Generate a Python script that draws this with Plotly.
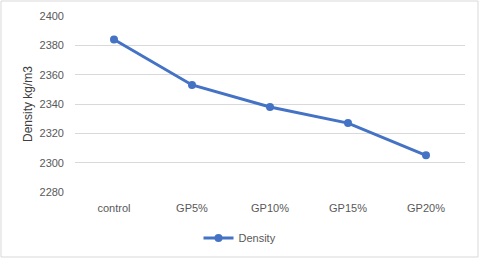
import plotly.graph_objects as go

categories = ["control", "GP5%", "GP10%", "GP15%", "GP20%"]
density = [2384, 2353, 2338, 2327, 2305]
y_ticks = [2280, 2300, 2320, 2340, 2360, 2380, 2400]

W, H = 480, 259
L, R, T, B = 75, 15, 16, 67
pw, ph = W - L - R, H - T - B

fig = go.Figure()
fig.add_trace(go.Scatter(
    x=categories, y=density, mode="lines+markers", name="Density",
    line=dict(color="#4472C4", width=3),
    marker=dict(color="#4472C4", size=8),
))

font = dict(family="Liberation Sans, Arial, sans-serif", size=11, color="#595959")

fig.update_layout(
    width=W, height=H,
    margin=dict(l=L, r=R, t=T, b=B, autoexpand=False),
    paper_bgcolor="white", plot_bgcolor="white",
    font=font,
    showlegend=True,
    legend=dict(orientation="h", xref="container", x=0.5, xanchor="center",
                yref="container", y=1 - 238 / H, yanchor="middle",
                font=dict(family="Liberation Sans, Arial, sans-serif", size=11, color="#595959"),
                bgcolor="rgba(0,0,0,0)"),
    xaxis=dict(type="category", range=[-0.5, 4.5], showgrid=False, zeroline=False,
               showline=False, ticks="", ticklabelstandoff=8, automargin=False,
               tickfont=font),
    yaxis=dict(range=[2280, 2400], tickvals=y_ticks, showgrid=True,
               gridcolor="#D9D9D9", gridwidth=1, zeroline=False, showline=False,
               ticks="", ticklabelstandoff=10, tickfont=font, automargin=False,
               title=dict(text="Density kg/m3", standoff=4,
                          font=dict(family="Liberation Sans, Arial, sans-serif", size=12, color="#404040"))),
    shapes=[dict(type="rect", xref="paper", yref="paper",
                 x0=(1 - L) / pw, x1=(478 - L) / pw,
                 y0=(192 - 257) / ph, y1=(192 - 1) / ph,
                 line=dict(color="#D9D9D9", width=1), fillcolor="rgba(0,0,0,0)",
                 layer="below")],
)

fig.write_html("out.html", config={"displayModeBar": False},
               post_script="document.body.style.margin='0';document.body.style.overflow='hidden';")
